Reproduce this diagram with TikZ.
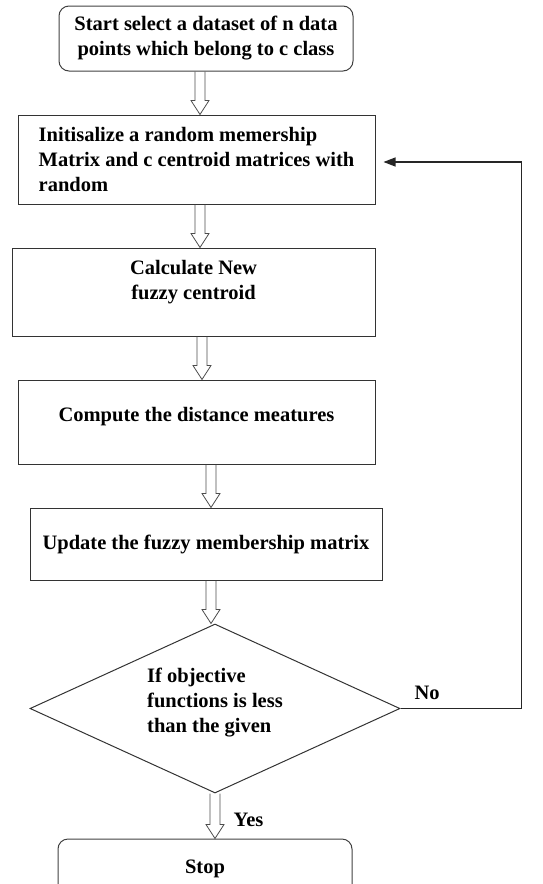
\documentclass[tikz,border=0pt]{standalone}
\usepackage{fontspec}
\setmainfont{Liberation Serif}
\usetikzlibrary{arrows.meta,calc,positioning,shapes.geometric}
\tikzset{
    every node/.style = {font=\fontsize{20.5}{25}\selectfont\bfseries},
    terminal/.style = {rectangle,rounded corners=10pt,draw=black!75,line width=1pt,align=center,minimum width=294pt,minimum height=65pt},
    process/.style = {rectangle,draw=black!80,line width=1pt,align=center},
    decision/.style = {diamond,shape aspect=2.19,draw=black!80,line width=1pt,inner sep=0pt,minimum width=370pt,minimum height=169pt,align=left},
    hollow/.style = {draw=black!70,line width=0.8pt,
        to path={let \p1=(\tikztostart), \p2=(\tikztotarget) in
            (\x1-5pt,\y1) -- (\x1-5pt,\y2+14pt) -- (\x1-9pt,\y2+14pt) -- (\x1,\y2)
            -- (\x1+9pt,\y2+14pt) -- (\x1+5pt,\y2+14pt) -- (\x1+5pt,\y1) \tikztonodes}},
    loopback/.style = {draw=black!85,line width=1.2pt,-{Triangle[length=12pt,width=9pt]},shorten >=8pt}
}

\begin{document}
\begin{tikzpicture}[x=1pt,y=-1pt,node distance=43pt]
        \useasboundingbox (0,0) rectangle (543,884);

        %% Boxes
        \node[terminal]  (start) at (206,38.5) {Start select a dataset of n data\\points which belong to c class};
        \node[process,minimum width=357pt,minimum height=89pt,align=left]  (init) [below=of start,xshift=-9.5pt]
            {Initisalize a random memership\\Matrix and c centroid matrices with\\random};
        \node[process,minimum width=363pt,minimum height=88pt]  (calc) [below=of init,xshift=-3pt]
            {Calculate New\\fuzzy centroid\\\mbox{}};
        \node[process,minimum width=357pt,minimum height=84pt]  (dist) [below=of calc,xshift=3pt]
            {Compute the distance meatures\\[-10pt]\mbox{}};
        \node[process,minimum width=352pt,minimum height=72pt]  (upd) [below=of dist,xshift=9.5pt]
            {Update the fuzzy membership matrix};
        \node[decision]  (dec) [below=of upd,xshift=9pt]
            {If objective\\functions is less\\than the given\\[-9pt]\mbox{}};
        \node[terminal,minimum height=60pt]  (stop) [below=45pt of dec,xshift=-10pt] {Stop};

        %% Hollow arrows
        \draw[hollow] ([xshift=-6pt]start.south) to ([xshift=-6pt]init.north);
        \draw[hollow] ([xshift=3.5pt]init.south) to (calc.north);
        \draw[hollow] ([xshift=8.5pt]calc.south) to (dist.north);
        \draw[hollow] ([xshift=14.5pt]dist.south) to (upd.north);
        \draw[hollow] ([xshift=5pt]upd.south) to (dec.north);
        \draw[hollow] (dec.south) to node[pos=0.15,right=10pt] {Yes} (stop.north);

        %% Loop back
        \draw[loopback] (dec.east) -- node[pos=0.22,above=5pt] {No} ++(121,0) |- ([yshift=-2.5pt]init.east);
\end{tikzpicture}
\end{document}
